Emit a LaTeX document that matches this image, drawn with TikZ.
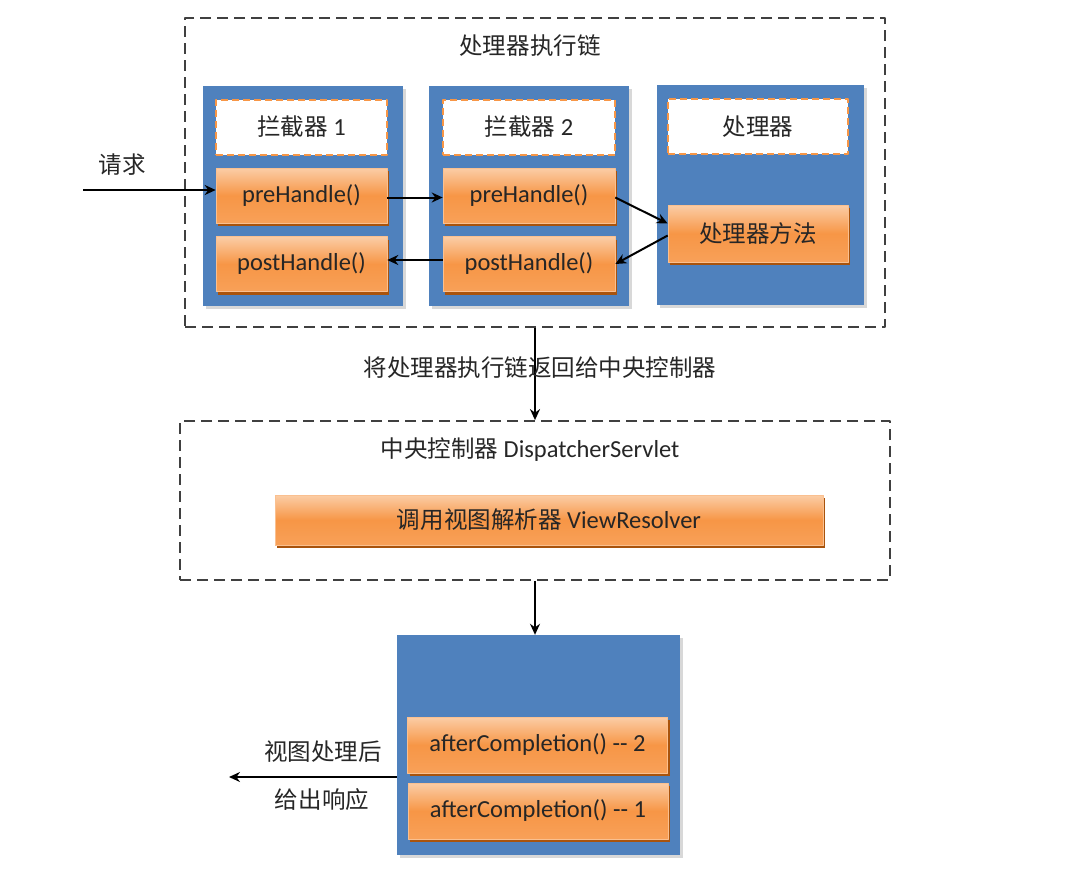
\documentclass[tikz,border=0pt]{standalone}
\usepackage{fontspec}
\setmainfont{Carlito}
\newfontfamily\cjk[Scale=0.96]{Noto Sans CJK SC}
\usetikzlibrary{shadows,arrows.meta}
\definecolor{blu}{HTML}{4F81BD}
\definecolor{org}{HTML}{F79646}
\definecolor{orgl}{HTML}{FBCDA6}
\definecolor{orgd}{HTML}{A9530C}
\definecolor{txt}{HTML}{262626}
\begin{document}
\begin{tikzpicture}[x=1pt, y=-1pt, font=\fontsize{24.5}{29}\selectfont, text=txt, line join=round, >={Stealth[length=11pt, width=10pt]},
	frame/.style={draw=black!75, line width=1.8pt, dash pattern=on 11pt off 6pt, minimum width=#1, inner sep=0pt},
	blubox/.style={fill=blu, inner sep=0pt, minimum height=220pt, drop shadow={shadow xshift=3pt, shadow yshift=-3pt, fill=black!30, opacity=0.5}},
	namebox/.style={fill=white, draw=org, line width=2pt, dash pattern=on 7pt off 4pt, inner sep=0pt, minimum height=55pt},
	orgbox/.style={top color=orgl, bottom color=org!90!white, middle color=org, draw=org!60!white, line width=0.6pt, inner sep=0pt, minimum height=55pt, drop shadow={shadow xshift=2pt, shadow yshift=-3pt, fill=orgd, opacity=1}},
	link/.style={->, line width=2pt}]
	\useasboundingbox (0,0) rectangle (1077,879);
	% processor execution chain
	\node[frame=700pt, minimum height=309pt] (chain) at (535,172.5) {};
	\node (chaintitle) at (530,46) {\cjk 处理器执行链};
	\node[blubox, minimum width=200pt] (b1) at (303,196) {};
	\node[blubox, minimum width=200pt] (b2) at (529,196) {};
	\node[blubox, minimum width=207pt] (b3) at (760,195) {};
	\node[namebox, minimum width=171pt] (n1) at (301.5,127) {{\cjk 拦截器} 1};
	\node[namebox, minimum width=172pt] (n2) at (529,127) {{\cjk 拦截器} 2};
	\node[namebox, minimum width=180pt] (n3) at (758,126.5) {\cjk 处理器};
	\node[orgbox, minimum width=171pt] (pre1) at (301.5,195.5) {preHandle()};
	\node[orgbox, minimum width=171pt] (post1) at (301.5,264) {postHandle()};
	\node[orgbox, minimum width=172pt] (pre2) at (529,195.5) {preHandle()};
	\node[orgbox, minimum width=172pt] (post2) at (529,264) {postHandle()};
	\node[orgbox, minimum width=180pt, minimum height=57pt] (meth) at (758,233.5) {\cjk 处理器方法};
	\coordinate (req) at (83,190);
	\node (reqlabel) at (122,165) {\cjk 请求};
	\draw[link] (req) -- (req -| pre1.west);
	\draw[link] ([yshift=-2pt]pre1.east) -- ([yshift=-2pt]pre2.west);
	\draw[link] ([yshift=-2pt]pre2.east) -- ([yshift=10pt]meth.west);
	\draw[link] ([yshift=-2pt]meth.west) -- (post2.east);
	\draw[link] ([yshift=4pt]post2.west) -- ([yshift=4pt]post1.west -| post1.east);
	% dispatcher
	\node[frame=710pt, minimum height=159pt] (disp) at (535,500.5) {};
	\node (disptitle) at (530,450) {{\cjk 中央控制器} DispatcherServlet};
	\node[orgbox, minimum width=548pt, minimum height=50pt] (vr) at (549,520) {{\cjk 调用视图解析器} ViewResolver};
	\draw[link] (chain.south) -- (disp.north);
	\node (back) at (540,368) {\cjk 将处理器执行链返回给中央控制器};
	% after completion
	\node[blubox, minimum width=283pt] (b4) at (538.5,745) {};
	\node[orgbox, minimum width=260pt, minimum height=56pt] (ac2) at (537.5,745) {afterCompletion() -{}- 2};
	\node[orgbox, minimum width=260pt, minimum height=56pt] (ac1) at (538,811) {afterCompletion() -{}- 1};
	\draw[link] (disp.south) -- (disp.south |- b4.north);
	\coordinate (out) at (229,777);
	\draw[link] (out -| b4.west) -- (out);
	\node (outlabel1) at (323,752) {\cjk 视图处理后};
	\node (outlabel2) at (322,800) {\cjk 给出响应};
\end{tikzpicture}
\end{document}
